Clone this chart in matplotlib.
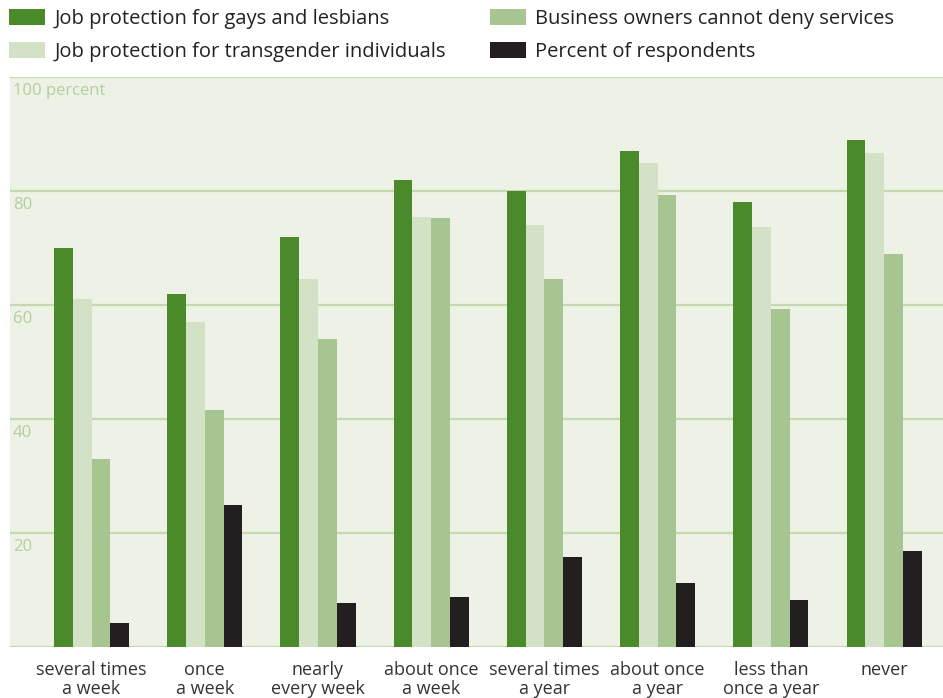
import numpy as np
import matplotlib.pyplot as plt

categories = ["several times\na week", "once\na week", "nearly\nevery week", "about once\na week",
              "several times\na year", "about once\na year", "less than\nonce a year", "never"]
gays_lesbians = [70, 62, 72, 82, 80, 87, 78, 89]
transgender = [61, 57, 64.5, 75.5, 74, 85, 73.7, 86.6]
business = [33, 41.5, 54, 75.2, 64.5, 79.3, 59.3, 69]
respondents = [4.2, 25, 7.7, 8.8, 15.8, 11.3, 8.2, 16.9]
yticks = [20, 40, 60, 80, 100]
ytick_labels = ["20", "40", "60", "80", "100 percent"]

series = [
    ("Job protection for gays and lesbians", gays_lesbians, "#4a8a2a"),
    ("Job protection for transgender individuals", transgender, "#d3e2c6"),
    ("Business owners cannot deny services", business, "#a6c590"),
    ("Percent of respondents", respondents, "#231f20"),
]

plt.rcParams['font.family'] = ['Open Sans', 'DejaVu Sans']

fig = plt.figure(figsize=(9.43, 6.98), dpi=100)
ax = fig.add_axes([10 / 943, 51 / 698, 933 / 943, 570 / 698])
ax.set_facecolor("#eef1e6")

x = np.arange(len(categories))
w = 0.166
for i, (name, vals, col) in enumerate(series):
    ax.bar(x + (i - 1.5) * w, vals, width=w, color=col, label=name, zorder=3)

grid_col = "#c3d9ae"
for t in [0] + yticks:
    ax.axhline(t, color=grid_col, lw=1.6, zorder=2)
for t, lab in zip(yticks, ytick_labels):
    ax.text(0.003, t - 2.5, lab, transform=ax.get_yaxis_transform(), ha="left", va="center",
            color="#b2cf9c", fontsize=12, zorder=4)

ax.set_xlim(-0.72, 7.52)
ax.set_ylim(0, 100)
ax.set_yticks([])
ax.set_xticks(x)
ax.set_xticklabels(categories, fontsize=13, color="#333333", linespacing=1.1)
ax.tick_params(axis="x", length=0, pad=10)
for s in ax.spines.values():
    s.set_visible(False)

fig.legend(loc="upper left", bbox_to_anchor=(4 / 943, 1 - 4 / 698), ncol=2, frameon=False,
           fontsize=14.5, handlelength=1.8, handleheight=0.85, handletextpad=0.45,
           columnspacing=2.2, labelspacing=0.65, borderpad=0.25, borderaxespad=0,
           labelcolor="#222222")

fig.savefig("out.png", dpi=100)
